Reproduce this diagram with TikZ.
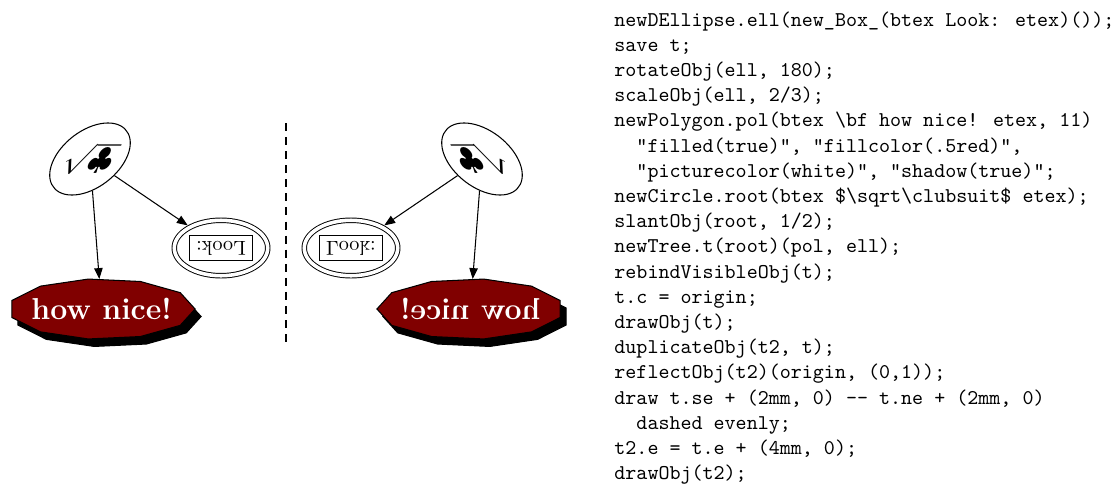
\documentclass[tikz,border=0pt]{standalone}
\usepackage{fontspec}
\usetikzlibrary{shapes.geometric,arrows.meta}
\definecolor{halfred}{rgb}{0.5,0,0}

\tikzset{
  treeedge/.style={-{Triangle[length=5.2pt,width=4pt]}, line width=0.5pt},
  rootnode/.style={circle, draw, line width=0.5pt, minimum size=34.3pt, inner sep=0pt,
    xslant=0.5, transform shape, font=\Large},
  ellnode/.style={ellipse, draw, double, double distance=1.7pt, line width=0.45pt,
    minimum width=44.5pt, minimum height=26.4pt, inner sep=0pt, outer sep=1.3pt, transform shape},
  lookbox/.style={draw, line width=0.45pt, inner xsep=3pt, inner ysep=2.4pt, rotate=180,
    transform shape, font=\fontsize{9.6}{11}\selectfont},
  polnode/.style={regular polygon, regular polygon sides=11, shape border rotate=-90, draw,
    line width=0.5pt, fill=halfred, minimum size=28.8pt, inner sep=0pt, xscale=3.09, transform shape},
  polshadow/.style={polnode, fill=black},
  poltext/.style={text=white, font=\Large\bfseries, inner sep=0pt, transform shape},
  codetext/.style={align=left, inner sep=0pt, font=\ttfamily\fontsize{10}{12}\selectfont},
}

\begin{document}
\begin{tikzpicture}[x=0.476pt, y=-0.476pt]
  \useasboundingbox (0,0) rectangle (1118,490);

  % the tree and its mirror image
  \foreach \dx/\sx/\shx/\t in {0/1/6/l, 572/-1/-6/r}{
    \begin{scope}[shift={(\dx,0)}, xscale=\sx]
      \node[rootnode] (root\t) at (90,159) {$\sqrt\clubsuit$};
      \node[polshadow] at (101.6+\shx,316.5) {};
      \node[polnode] (pol\t) at (101.6,309) {};
      \node[poltext] at (pol\t.center) {how nice!};
      \node[ellnode] (ell\t) at (221,248) {};
      \node[lookbox] at (ell\t.center) {Look:};
      \draw[treeedge] (root\t) -- (pol\t);
      \draw[treeedge] (root\t) -- (ell\t);
    \end{scope}
  }

  \coordinate (dtop) at (286,123);
  \coordinate (dbot) at (286,348);
  \draw[dash pattern=on 3.8pt off 2.9pt, line width=0.5pt] (dtop) -- (dbot);

  % the code
  \node[codetext, anchor=north west] (code) at (614,11) {%
    newDEllipse.ell(new\_Box\_(btex Look: etex)());\\
    save t;\\
    rotateObj(ell, 180);\\
    scaleObj(ell, 2/3);\\
    newPolygon.pol(btex \textbackslash bf how nice! etex, 11)\\
    \phantom{xx}"filled(true)", "fillcolor(.5red)",\\
    \phantom{xx}"picturecolor(white)", "shadow(true)";\\
    newCircle.root(btex \$\textbackslash sqrt\textbackslash clubsuit\$ etex);\\
    slantObj(root, 1/2);\\
    newTree.t(root)(pol, ell);\\
    rebindVisibleObj(t);\\
    t.c = origin;\\
    drawObj(t);\\
    duplicateObj(t2, t);\\
    reflectObj(t2)(origin, (0,1));\\
    draw t.se + (2mm, 0) -{}- t.ne + (2mm, 0)\\
    \phantom{xx}dashed evenly;\\
    t2.e = t.e + (4mm, 0);\\
    drawObj(t2);};
\end{tikzpicture}
\end{document}
